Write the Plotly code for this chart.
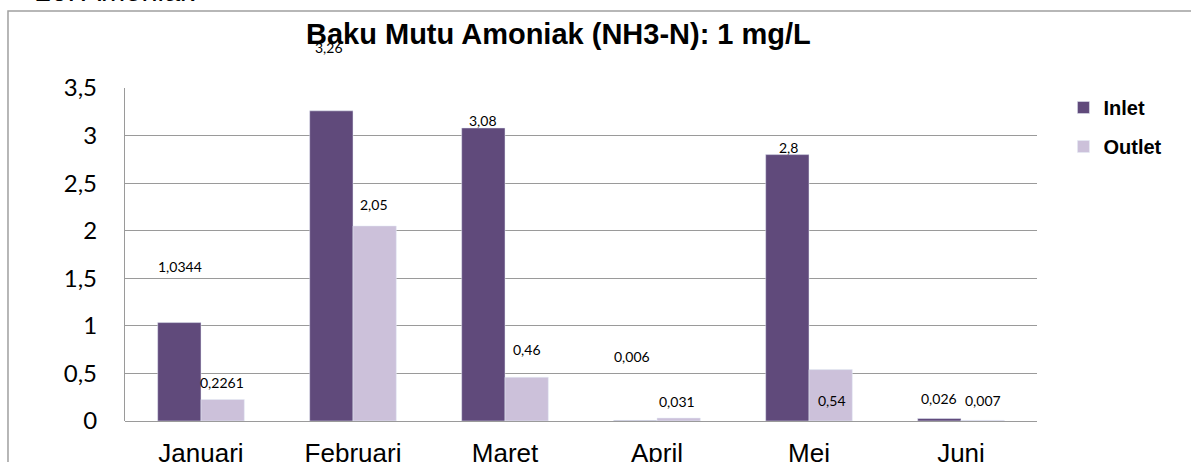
import plotly.graph_objects as go

categories = ["Januari", "Februari", "Maret", "April", "Mei", "Juni"]
inlet = [1.0344, 3.26, 3.08, 0.006, 2.8, 0.026]
outlet = [0.2261, 2.05, 0.46, 0.031, 0.54, 0.007]
inlet_labels = ["1,0344", "3,26", "3,08", "0,006", "2,8", "0,026"]
outlet_labels = ["0,2261", "2,05", "0,46", "0,031", "0,54", "0,007"]
y_ticks = [0, 0.5, 1, 1.5, 2, 2.5, 3, 3.5]
y_tick_text = ["0", "0,5", "1", "1,5", "2", "2,5", "3", "3,5"]

# label placement offsets (pixels) mimicking the source chart
inlet_shift = [(-21, 56), (-24, 63), (-22, 7), (-25, 64), (-21, 7), (-22, 20)]
outlet_shift = [(21, 17), (21, 21), (22, 28), (20, 17), (23, -31), (22, 20)]

C_IN = "#604a7b"
C_OUT = "#ccc1da"
GRID = "#9a9a9a"

fig = go.Figure()
fig.add_trace(go.Bar(name="Inlet", x=categories, y=inlet, marker_color=C_IN,
                     legendgroup="a"))
fig.add_trace(go.Bar(name="Outlet", x=categories, y=outlet, marker_color=C_OUT,
                     legendgroup="b"))

label_font = dict(family="Century Gothic, Lato, sans-serif", size=14, color="#000000")
for cat, v, t, (dx, dy) in zip(categories, inlet, inlet_labels, inlet_shift):
    fig.add_annotation(x=cat, y=v, text=t, showarrow=False, xshift=dx, yshift=dy,
                       font=label_font)
for cat, v, t, (dx, dy) in zip(categories, outlet, outlet_labels, outlet_shift):
    fig.add_annotation(x=cat, y=v, text=t, showarrow=False, xshift=dx, yshift=dy,
                       font=label_font)

# chart title
fig.add_annotation(xref="paper", yref="paper", x=0.475, y=1.161, yanchor="middle",
                   xanchor="center", showarrow=False,
                   text="<b>Baku Mutu Amoniak (NH3-N): 1 mg/L</b>",
                   font=dict(family="Liberation Sans, Arial, sans-serif", size=29, color="#000000"))
# heading above the chart (cut off at top)
fig.add_annotation(xref="paper", yref="paper", x=-0.1009, y=1.238, yanchor="bottom",
                   xanchor="left", showarrow=False, text="20. Amoniak",
                   font=dict(family="Liberation Sans, Arial, sans-serif", size=29, color="#000000"))

# chart frame
fig.add_shape(type="rect", xref="paper", yref="paper", x0=-0.1283, x1=1.2,
              y0=-0.2, y1=1.2311, line=dict(color="#a0a0a0", width=1.5),
              fillcolor="rgba(0,0,0,0)", layer="below")

fig.update_layout(
    width=1191, height=462,
    margin=dict(l=125, r=154, t=88, b=41),
    paper_bgcolor="#ffffff", plot_bgcolor="#ffffff",
    barmode="group", bargap=0.43, bargroupgap=0,
    separators=",.",
    showlegend=True,
    legend=dict(x=1.029, xanchor="left", y=1.0, yanchor="top",
                font=dict(family="Liberation Sans, Arial, sans-serif", size=20,
                          color="#000000", weight="bold"),
                traceorder="grouped", tracegroupgap=10,
                bgcolor="rgba(0,0,0,0)"),
    xaxis=dict(showgrid=False, showline=False, ticks="", automargin=False,
               tickfont=dict(family="Liberation Sans, Arial, sans-serif", size=26, color="#000000"),
               ticklabelstandoff=14),
    yaxis=dict(range=[0, 3.5], tickvals=y_ticks, ticktext=y_tick_text, automargin=False,
               showgrid=True, gridcolor=GRID, gridwidth=1.3,
               zeroline=True, zerolinecolor=GRID, zerolinewidth=1.3,
               showline=True, linecolor=GRID, linewidth=1.3, ticks="",
               tickfont=dict(family="Century Gothic, Lato, sans-serif", size=24, color="#000000"),
               ticklabelstandoff=22),
)

fig.write_html("out.html", config={"displayModeBar": False},
               post_script="document.body.style.margin='0px';document.body.style.overflow='hidden';")
